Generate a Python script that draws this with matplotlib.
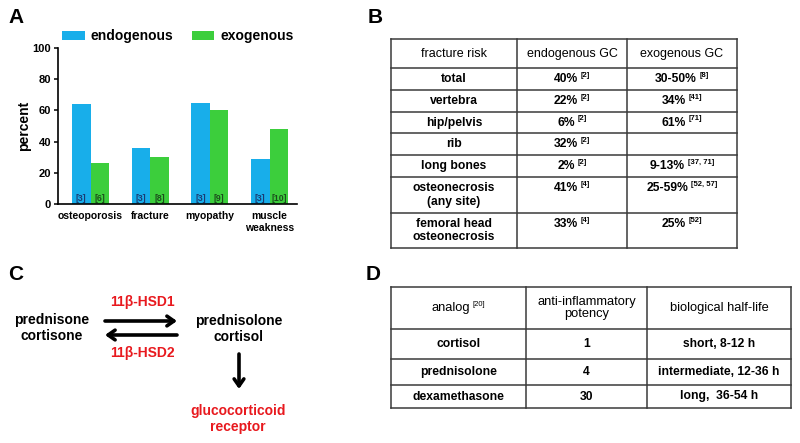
import numpy as np
import matplotlib
matplotlib.use("Agg")
import matplotlib.pyplot as plt

plt.rcParams['font.family'] = ['Liberation Sans', 'DejaVu Sans']

# panel A data
categories = ['osteoporosis', 'fracture', 'myopathy', 'muscle\nweakness']
endogenous = [64, 36, 65, 29]
exogenous = [26, 30, 60, 48]
endo_refs = ['[3]', '[3]', '[3]', '[3]']
exo_refs = ['[6]', '[8]', '[9]', '[10]']

# panel B data
b_header = ['fracture risk', 'endogenous GC', 'exogenous GC']
b_sites = ['total', 'vertebra', 'hip/pelvis', 'rib', 'long bones',
           'osteonecrosis\n(any site)', 'femoral head\nosteonecrosis']
b_endo = [('40%', '[2]'), ('22%', '[2]'), ('6%', '[2]'), ('32%', '[2]'),
          ('2%', '[2]'), ('41%', '[4]'), ('33%', '[4]')]
b_exo = [('30-50%', '[8]'), ('34%', '[41]'), ('61%', '[71]'), ('', ''),
         ('9-13%', '[37, 71]'), ('25-59%', '[52, 57]'), ('25%', '[52]')]

# panel D data
d_header = [('analog', '[20]'), ('anti-inflammatory\npotency', ''), ('biological half-life', '')]
d_analog = ['cortisol', 'prednisolone', 'dexamethasone']
d_potency = ['1', '4', '30']
d_halflife = ['short, 8-12 h', 'intermediate, 12-36 h', 'long,  36-54 h']

BLUE = '#18aeea'
GREEN = '#3cce3c'
LINE = '#3a3a3a'

fig = plt.figure(figsize=(8, 4.43), dpi=100)
ov = fig.add_axes([0, 0, 1, 1])
ov.set_xlim(0, 800)
ov.set_ylim(443, 0)
ov.axis('off')
renderer = fig.canvas.get_renderer()


def sup_text(x, y, main, sup, size=8.7, weight='bold', supsize=5.5):
    # main text + raised reference, centred as one group
    t1 = ov.text(0, y, main, fontsize=size, fontweight=weight, ha='left', va='center')
    t2 = ov.text(0, y - 4, sup, fontsize=supsize, fontweight=weight, ha='left', va='center')
    w1 = t1.get_window_extent(renderer).width if main else 0
    w2 = t2.get_window_extent(renderer).width if sup else 0
    gap = 3 if (main and sup) else 0
    x0 = x - (w1 + gap + w2) / 2
    t1.set_x(x0)
    t2.set_x(x0 + w1 + gap)


def grid(xs, ys):
    for x in xs:
        ov.plot([x, x], [ys[0], ys[-1]], color=LINE, lw=1.1, solid_capstyle='projecting')
    for y in ys:
        ov.plot([xs[0], xs[-1]], [y, y], color=LINE, lw=1.1, solid_capstyle='projecting')


# ---- panel labels
for lab, x, y in [('A', 8, 17), ('B', 368, 17), ('C', 8, 274), ('D', 366, 275)]:
    ov.text(x, y, lab, fontsize=15, fontweight='bold', ha='left', va='center')

# ---- panel A: bar chart
ax = fig.add_axes([58 / 800, 1 - 204 / 443, 239 / 800, 156 / 443])
x = np.arange(len(categories))
w = 0.31
ax.bar(x - w / 2, endogenous, w, color=BLUE, label='endogenous')
ax.bar(x + w / 2, exogenous, w, color=GREEN, label='exogenous')
for i in range(len(categories)):
    ax.text(x[i] - w / 2, 3.5, endo_refs[i], fontsize=6.3, fontweight='bold',
            color='#1b3a72', ha='center', va='center')
    ax.text(x[i] + w / 2, 3.5, exo_refs[i], fontsize=6.3, fontweight='bold',
            color='#1c4d1c', ha='center', va='center')
ax.set_xlim(-0.545, 3.46)
ax.set_ylim(0, 100)
ax.set_yticks([0, 20, 40, 60, 80, 100])
ax.set_xticks(x)
ax.set_xticklabels(categories, fontsize=7.5, fontweight='bold', linespacing=1.25)
for t in ax.get_yticklabels():
    t.set_fontweight('bold')
    t.set_fontsize(8)
ax.tick_params(axis='x', length=0, pad=5)
ax.tick_params(axis='y', length=3, width=1.1, pad=2)
ax.spines['top'].set_visible(False)
ax.spines['right'].set_visible(False)
ax.spines['left'].set_linewidth(1.2)
ax.spines['bottom'].set_linewidth(1.2)
ax.set_ylabel('percent', fontsize=10, fontweight='bold', labelpad=1)
ax.legend(loc='lower left', bbox_to_anchor=(0.018, 1.03), ncol=2, frameon=False,
          prop={'weight': 'bold', 'size': 10}, handlelength=1.65, handleheight=0.6,
          handletextpad=0.4, columnspacing=1.3, borderaxespad=0, borderpad=0)

# ---- panel B: table
bx = [391, 517, 627, 737]
by = [39, 68, 90, 112, 133, 155, 177, 213, 248]
grid(bx, by)
bcx = [(bx[i] + bx[i + 1]) / 2 for i in range(3)]
for i, h in enumerate(b_header):
    ov.text(bcx[i], (by[0] + by[1]) / 2, h, fontsize=9, ha='center', va='center')
for r in range(len(b_sites)):
    top, bot = by[r + 1], by[r + 2]
    if '\n' in b_sites[r]:
        yc = top + 11
        ov.text(bcx[0], (top + bot) / 2, b_sites[r], fontsize=8.7, fontweight='bold',
                ha='center', va='center', linespacing=1.15)
    else:
        yc = (top + bot) / 2
        ov.text(bcx[0], yc, b_sites[r], fontsize=8.7, fontweight='bold',
                ha='center', va='center')
    sup_text(bcx[1], yc, *b_endo[r])
    sup_text(bcx[2], yc, *b_exo[r])

# ---- panel C: conversion scheme
fs = 10
ov.text(52, 328, 'prednisone\ncortisone', fontsize=fs, fontweight='bold',
        ha='center', va='center', linespacing=1.1)
ov.text(239, 329, 'prednisolone\ncortisol', fontsize=fs, fontweight='bold',
        ha='center', va='center', linespacing=1.1)
ov.text(142, 302, '11β-HSD1', fontsize=fs, fontweight='bold', color='#e8191e',
        ha='center', va='center')
ov.text(142, 353, '11β-HSD2', fontsize=fs, fontweight='bold', color='#e8191e',
        ha='center', va='center')
ov.text(238, 419, 'glucocorticoid\nreceptor', fontsize=fs, fontweight='bold', color='#e8191e',
        ha='center', va='center', linespacing=1.1)
arrow = dict(arrowstyle='->,head_length=0.5,head_width=0.35', lw=2.6, color='black',
             shrinkA=0, shrinkB=0)
ov.annotate('', xy=(177, 321), xytext=(105, 321), arrowprops=arrow)
ov.annotate('', xy=(105, 335), xytext=(177, 335), arrowprops=arrow)
ov.annotate('', xy=(239, 389), xytext=(239, 354), arrowprops=arrow)

# ---- panel D: table
dx = [391, 526, 647, 791]
dy = [287, 329, 359, 385, 408]
grid(dx, dy)
dcx = [(dx[i] + dx[i + 1]) / 2 for i in range(3)]
hy = (dy[0] + dy[1]) / 2
for i, (h, s) in enumerate(d_header):
    if s:
        sup_text(dcx[i], hy, h, s, size=9.3, weight='normal', supsize=5.5)
    else:
        ov.text(dcx[i], hy, h, fontsize=9.3, ha='center', va='center', linespacing=1.1)
for r in range(len(d_analog)):
    yc = (dy[r + 1] + dy[r + 2]) / 2
    ov.text(dcx[0], yc, d_analog[r], fontsize=8.7, fontweight='bold', ha='center', va='center')
    ov.text(dcx[1], yc, d_potency[r], fontsize=8.7, fontweight='bold', ha='center', va='center')
    ov.text(dcx[2], yc, d_halflife[r], fontsize=8.7, fontweight='bold', ha='center', va='center')

fig.savefig('out.png', dpi=100)
